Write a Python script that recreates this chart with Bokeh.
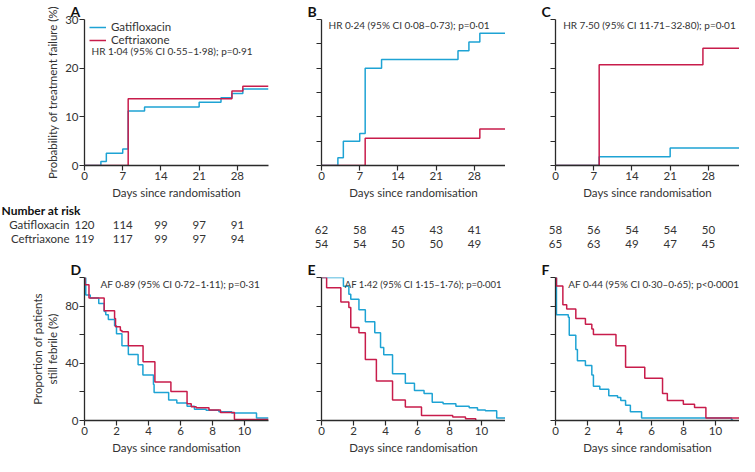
from bokeh.plotting import figure
from bokeh.layouts import column, row
from bokeh.models import Range1d, FixedTicker, Label, Legend, LegendItem
from bokeh.embed import file_html
from bokeh.resources import INLINE
from bokeh.core.properties import value

# ---------------- data ----------------
top_ticks = [0, 7, 14, 21, 28]
bot_ticks = [0, 2, 4, 6, 8, 10]
TOP_END = 33.7
BOT_END = 11.5

A_gat_t = [0, 3, 4, 7, 8, 11, 21, 25, 27, 29, 33.7]
A_gat_v = [0, 0.8, 2.5, 3.4, 11.2, 12.0, 13.0, 13.9, 14.8, 15.7, 15.7]
A_cef_t = [0, 8, 27, 29, 33.7]
A_cef_v = [0, 13.7, 15.3, 16.3, 16.3]

B_gat_t = [0, 3, 4, 7, 8, 11, 25, 27, 29, 33.7]
B_gat_v = [0, 1.6, 5.0, 6.6, 20.0, 21.8, 23.6, 25.4, 27.2, 27.2]
B_cef_t = [0, 8, 29, 33.7]
B_cef_v = [0, 5.6, 7.5, 7.5]

C_gat_t = [0, 8, 21, 33.7]
C_gat_v = [0, 1.8, 3.6, 3.6]
C_cef_t = [0, 8, 27, 33.7]
C_cef_v = [0, 20.7, 24.1, 24.1]

D_gat_t = [0, 0.08, 0.36, 0.89, 1.23, 1.33, 1.49, 1.88, 2.0, 2.34, 2.74, 3.35, 3.65, 4.31, 4.35,
           5.26, 5.77, 6.41, 6.87, 7.6, 8.4, 9.2, 10.75, 11.5]
D_gat_v = [100, 87.8, 85.6, 81.8, 76.2, 74, 70.7, 66.2, 60.7, 52.2, 46.2, 38.9, 31.8, 25.1, 19.6,
           14.4, 12.2, 10.0, 7.8, 7.1, 6.2, 5.2, 1.8, 1.8]
D_cef_t = [0, 0.03, 0.28, 1.23, 1.88, 1.94, 2.24, 2.34, 2.74, 3.66, 4.4, 5.4, 6.41, 6.67, 6.98,
           7.78, 8.5, 9.37, 11.5]
D_cef_v = [100, 95, 85.6, 76.7, 71.3, 65.6, 63, 62, 52.2, 41.1, 26.9, 20.2, 11.8, 9.6, 8.9,
           7.3, 5.6, 0.7, 0.7]

E_gat_t = [0, 1.37, 1.71, 1.83, 2.34, 2.74, 3.33, 3.69, 3.89, 4.44, 5.24, 5.81, 6.41, 6.92,
           7.6, 8.4, 9.23, 9.75, 10.24, 10.95, 11.5]
E_gat_v = [100, 93.8, 88.3, 84.8, 77.5, 69.1, 61.4, 51.0, 45.9, 32.7, 26.0, 21.0, 18.8, 12.8,
           11.7, 10.0, 9.0, 7.3, 6.8, 1.8, 1.8]
E_cef_t = [0, 0.32, 1.21, 1.71, 1.83, 2.34, 2.74, 3.43, 4.44, 5.24, 6.25, 8.2, 9.0, 9.64]
E_cef_v = [100, 92.9, 82.8, 79.0, 65.1, 61.4, 42.6, 27.6, 14.3, 9.5, 3.5, 2.5, 1.2, 0]

F_gat_t = [0, 0.06, 0.8, 0.86, 1.27, 1.37, 1.87, 2.27, 2.37, 2.77, 3.33, 3.88, 4.08, 4.38,
           4.68, 5.38, 11.0, 11.1]
F_gat_v = [100, 74, 72.2, 59.6, 49.6, 41.8, 38.4, 31.8, 24, 21.8, 17.3, 16, 14, 10.7,
           6.2, 1.8, 0.4, 0.4]
F_cef_t = [0, 0.06, 0.46, 0.7, 1.27, 1.87, 2.27, 2.37, 3.78, 4.38, 5.58, 6.69, 6.99, 7.99,
           8.69, 9.4, 11.5]
F_cef_v = [100, 94, 81, 78, 71.3, 67.3, 64, 60.2, 52.2, 37.3, 29.6, 18.9, 14, 11.3,
           9.1, 1.8, 1.8]

risk_days = [0, 7, 14, 21, 28]
A_gat_risk = [120, 114, 99, 97, 91]
A_cef_risk = [119, 117, 99, 97, 94]
B_gat_risk = [62, 58, 45, 43, 41]
B_cef_risk = [54, 54, 50, 50, 49]
C_gat_risk = [58, 56, 54, 54, 50]
C_cef_risk = [65, 63, 49, 47, 45]

top_notes = ["HR 1·04 (95% CI 0·55–1·98); p=0·91",
             "HR 0·24 (95% CI 0·08–0·73); p=0·01",
             "HR 7·50 (95% CI 11·71–32·80); p=0·01"]
bot_notes = ["AF 0·89 (95% CI 0·72–1·11); p=0·31",
             "AF 1·42 (95% CI 1·15–1·76); p=0·001",
             "AF 0·44 (95% CI 0·30–0·65); p<0·0001"]

# ---------------- style ----------------
FONT = "Lato"
CYAN = "#1ea3d4"
RED = "#c81c4b"
AX = "#2a2a2a"
TXT = "#333333"
FW = 184
LEFTS = [84, 51, 50]
RIGHTS = [2, 0, 0]
TOP_FH = 146
BOT_FH = 143


def base(letter, left, right, xr, yr, fh, top, bottom):
    p = figure(frame_width=FW, frame_height=fh, x_range=xr, y_range=yr,
               min_border_left=left, min_border_right=right, min_border_top=top,
               min_border_bottom=bottom, output_backend="svg", toolbar_location=None,
               title=letter)
    p.grid.visible = False
    p.outline_line_color = None
    p.title.text_font = FONT
    p.title.text_font_size = "14px"
    p.title.text_font_style = "bold"
    p.title.text_color = "#111111"
    p.title.align = "left"
    p.title.offset = -14
    p.title.standoff = 0
    for ax in (p.xaxis[0], p.yaxis[0]):
        ax.axis_line_color = AX
        ax.axis_line_width = 1.3
        ax.major_tick_line_color = AX
        ax.major_tick_line_width = 1.2
        ax.major_tick_out = 5
        ax.major_tick_in = 0
        ax.minor_tick_out = 0
        ax.minor_tick_in = 0
        ax.major_label_text_font = FONT
        ax.major_label_text_font_size = "11.5px"
        ax.major_label_text_color = TXT
        ax.major_label_standoff = 1
        ax.axis_label_text_font = FONT
        ax.axis_label_text_font_size = "11.5px"
        ax.axis_label_text_font_style = "normal"
        ax.axis_label_text_color = TXT
        ax.axis_label_standoff = 3
    return p


def note(p, x, y, txt, size="10px"):
    p.add_layout(Label(x=x, y=y, text=txt, text_font=FONT, text_font_size=size,
                       text_color=TXT, text_baseline="middle"))


def top_panel(i, letter, gt, gv, ct, cv, txt, tx, ty):
    p = base(letter, LEFTS[i], RIGHTS[i], Range1d(0, TOP_END), Range1d(0, 30), TOP_FH, 19, 34)
    p.xaxis.ticker = FixedTicker(ticks=top_ticks)
    p.xaxis.axis_label = "Days since randomisation"
    if i == 0:
        p.yaxis.ticker = FixedTicker(ticks=[0, 10, 20, 30])
        p.yaxis.axis_label = "Probability of treatment failure (%)"
    else:
        yt = [0, 5, 10, 15, 20, 25, 30]
        p.yaxis.ticker = FixedTicker(ticks=yt)
        p.yaxis.major_label_overrides = {t: "" for t in yt}
    rg = p.step(gt, gv, mode="after", line_color=CYAN, line_width=1.5)
    rc = p.step(ct, cv, mode="after", line_color=RED, line_width=1.5)
    note(p, tx, ty, txt)
    return p, rg, rc


def bot_panel(i, letter, gt, gv, ct, cv, txt, tx, size="10px"):
    p = base(letter, LEFTS[i], RIGHTS[i], Range1d(0, BOT_END), Range1d(0, 100), BOT_FH, 26, 38)
    p.xaxis.ticker = FixedTicker(ticks=bot_ticks)
    p.xaxis.axis_label = "Days since randomisation"
    yt = [0, 20, 40, 60, 80, 100]
    p.yaxis.ticker = FixedTicker(ticks=yt)
    if i == 0:
        p.yaxis.major_label_overrides = {20: "", 60: "", 100: ""}
        p.yaxis.axis_label = "Proportion of patients\nstill febrile (%)"
    else:
        p.yaxis.major_label_overrides = {t: "" for t in yt}
    p.step(gt, gv, mode="after", line_color=CYAN, line_width=1.5)
    p.step(ct, cv, mode="after", line_color=RED, line_width=1.5)
    note(p, tx, 95.3, txt, size)
    return p


pA, rg, rc = top_panel(0, "A", A_gat_t, A_gat_v, A_cef_t, A_cef_v, top_notes[0], 1.3, 23.6)
pB, _, _ = top_panel(1, "B", B_gat_t, B_gat_v, B_cef_t, B_cef_v, top_notes[1], 1.3, 28.8)
pC, _, _ = top_panel(2, "C", C_gat_t, C_gat_v, C_cef_t, C_cef_v, top_notes[2], 1.4, 28.8)

leg = Legend(items=[LegendItem(label="Gatifloxacin", renderers=[rg]),
                    LegendItem(label="Ceftriaxone", renderers=[rc])],
             location=(5, TOP_FH - 27))
leg.background_fill_alpha = 0
leg.border_line_alpha = 0
leg.margin = 0
leg.padding = 0
leg.spacing = 0
leg.label_height = 12
leg.glyph_height = 12
leg.glyph_width = 17
leg.label_standoff = 5
leg.label_text_font = FONT
leg.label_text_font_size = "11.5px"
leg.label_text_color = TXT
leg.label_text_baseline = "middle"
pA.add_layout(leg)

pD = bot_panel(0, "D", D_gat_t, D_gat_v, D_cef_t, D_cef_v, bot_notes[0], 1.0)
pE = bot_panel(1, "E", E_gat_t, E_gat_v, E_cef_t, E_cef_v, bot_notes[1], 1.45, "9.5px")
pF = bot_panel(2, "F", F_gat_t, F_gat_v, F_cef_t, F_cef_v, bot_notes[2], 0.8)

# ---------------- number at risk ----------------
SCALE = FW / TOP_END
RH = 50


def risk_fig(i, g, c, y1, y2):
    left, right = LEFTS[i], RIGHTS[i]
    w = left + FW + right
    p = figure(width=w, height=RH, x_range=Range1d(-left / SCALE, TOP_END + right / SCALE),
               y_range=Range1d(RH, 0), min_border=0, x_axis_type=None, y_axis_type=None,
               output_backend="svg", toolbar_location=None)
    p.grid.visible = False
    p.outline_line_color = None
    kw = dict(text_font=value(FONT), text_font_size="11.5px", text_color=TXT,
              text_align="center", text_baseline="middle")
    p.text(x=risk_days, y=[y1] * len(risk_days), text=[str(v) for v in g], **kw)
    p.text(x=risk_days, y=[y2] * len(risk_days), text=[str(v) for v in c], **kw)
    if i == 0:
        p.text(x=[-(left - 1) / SCALE], y=[9], text=["Number at risk"], text_font=value(FONT),
               text_font_size="12px", text_font_style="bold", text_color="#111111",
               text_align="left", text_baseline="middle")
        kw2 = dict(kw)
        kw2["text_align"] = "right"
        p.text(x=[-15 / SCALE], y=[y1], text=["Gatifloxacin"], **kw2)
        p.text(x=[-15 / SCALE], y=[y2], text=["Ceftriaxone"], **kw2)
    return p


rA = risk_fig(0, A_gat_risk, A_cef_risk, 23, 37)
rB = risk_fig(1, B_gat_risk, B_cef_risk, 28, 42)
rC = risk_fig(2, C_gat_risk, C_cef_risk, 28, 42)

layout = column(row(pA, pB, pC), row(rA, rB, rC), row(pD, pE, pF))

open("out.html", "w").write(file_html(layout, INLINE))
